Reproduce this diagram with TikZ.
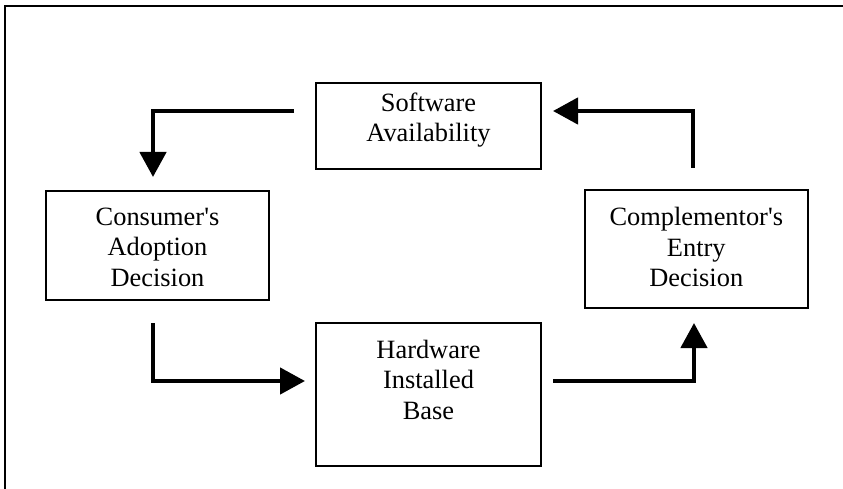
\documentclass[tikz,border=0pt]{standalone}
\usepackage{fontspec}
\setmainfont{Liberation Serif}
\usetikzlibrary{arrows.meta}
\begin{document}
\begin{tikzpicture}[x=1pt,y=-1pt,
  box/.style={draw, line width=1.5pt, inner sep=0pt, outer sep=0pt},
  txt/.style={align=center, inner sep=0pt, font=\fontsize{26.4pt}{30.5pt}\selectfont},
  arr/.style={line width=4.5pt, -{Triangle[length=25pt,width=26pt]}}]
\useasboundingbox (0,0) rectangle (843,489);
% frame
\draw[line width=2pt] (5,489) -- (5,6) -- (843,6);
% boxes
\node[box, minimum width=225pt, minimum height=86pt] (soft) at (428.5,126) {};
\node[txt] (softT) at (428.5,120) {Software\\Availability};
\node[box, minimum width=223pt, minimum height=109pt] (cons) at (157.5,245.5) {};
\node[txt] (consT) at (157.5,247) {Consumer\textquotesingle s\\Adoption\\Decision};
\node[box, minimum width=223pt, minimum height=118pt] (comp) at (696.5,249) {};
\node[txt] (compT) at (696.3,247) {Complementor\textquotesingle s\\Entry\\Decision};
\node[box, minimum width=225pt, minimum height=143pt] (hard) at (428.5,394.5) {};
\node[txt] (hardT) at (428.5,379.5) {Hardware\\Installed\\Base};
% arrows
\draw[arr] ([xshift=-22pt,yshift=15pt]soft.west) -| ([xshift=-4.5pt,yshift=14pt]cons.north);
\draw[arr] ([xshift=-4.5pt,yshift=-23pt]cons.south) |- ([xshift=-11pt,yshift=13.5pt]hard.west);
\draw[arr] ([xshift=12pt,yshift=13.5pt]hard.east) -| ([xshift=-2.5pt,yshift=-15pt]comp.south);
\draw[arr] ([xshift=-3.5pt,yshift=22pt]comp.north) |- ([xshift=12pt,yshift=15pt]soft.east);
\end{tikzpicture}
\end{document}
